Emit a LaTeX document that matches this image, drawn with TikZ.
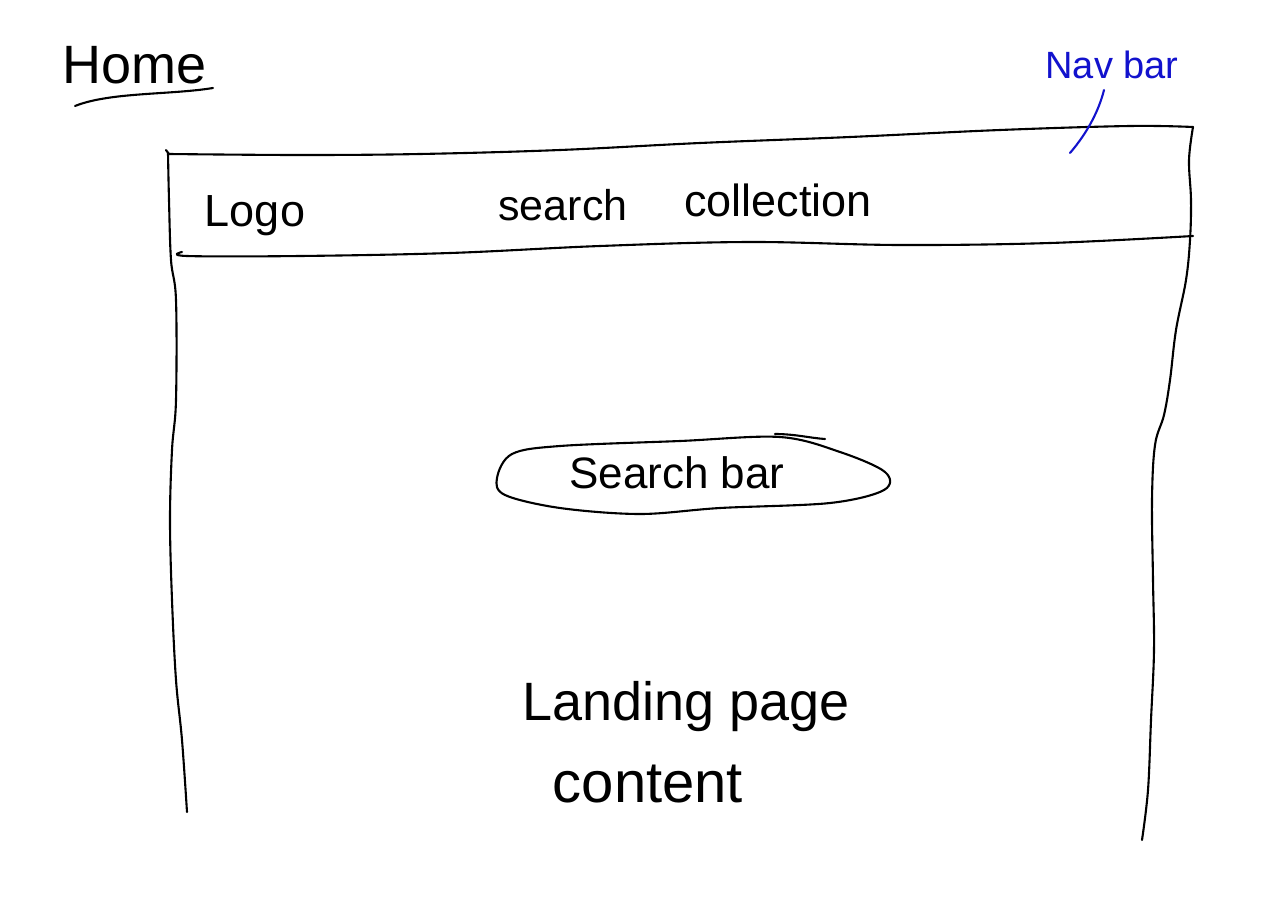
\documentclass[tikz,border=0pt]{standalone}
\usepackage{fontspec}
\setmainfont{Liberation Sans}
\begin{document}
\begin{tikzpicture}[x=1pt,y=-1pt,
  pen/.style={line width=2.1pt,line cap=round,line join=round,black},
  bluepen/.style={line width=2.1pt,line cap=round,color=inkblue},
  label/.style={anchor=base,inner sep=0pt,text=black},
]
\definecolor{inkblue}{RGB}{18,18,205}
\useasboundingbox[fill=white] (0,0) rectangle (1280,905);

% page title
\node[label,font=\fontsize{54}{62}\selectfont] (title) at (135,83) {Home};
\draw[pen] (75,106) .. controls (110,92) and (170,95) .. (213,88);

% outer page frame
\draw[pen] plot[smooth,tension=0.6] coordinates {(168,153) (169,200) (171,260) (176,300) (176,400) (172,450) (170,520) (172,600) (176,680) (182,740) (187,812)};
\draw[pen] plot[smooth,tension=0.6] coordinates {(1193,127) (1189,160) (1191,200) (1190,240) (1186,280) (1176,330) (1170,380) (1164,415) (1155,445) (1152,500) (1153,580) (1154,650) (1151,720) (1148,790) (1142,840)};

% navigation bar
\draw[pen] (166,150) -- (169,154);
\draw[pen] plot[smooth,tension=0.6] coordinates {(169,154) (300,155) (420,154) (560,150) (700,143) (850,137) (1000,130) (1130,126) (1193,127)};
\draw[pen] plot[smooth,tension=0.6] coordinates {(182,252) (187,256) (300,256) (450,253) (600,246) (750,242) (900,245) (1050,243) (1193,236)};

\node[label,font=\fontsize{45}{54}\selectfont] (logo) at (255,226) {Logo};
\node[label,font=\fontsize{43}{52}\selectfont] (search) at (563,220) {search};
\node[label,font=\fontsize{45}{54}\selectfont] (collection) at (778,216) {collection};

% navbar annotation
\node[label,text=inkblue,font=\fontsize{38}{46}\selectfont] (navlabel) at (1112,78) {Nav bar};
\coordinate (navstart) at (1104,90);
\coordinate (navtip) at (1070,153);
\draw[bluepen] (navstart) .. controls (1099,110) and (1088,132) .. (navtip);

% search field
\draw[pen] plot[smooth cycle,tension=0.55] coordinates {(497,478) (512,454) (560,446) (680,441) (780,437) (840,452) (885,472) (884,490) (830,503) (720,508) (640,514) (560,508) (505,495)};
\draw[pen] (775,434) .. controls (795,434) and (810,438) .. (825,439);
\node[label,font=\fontsize{44}{52}\selectfont] (searchbar) at (677,488) {Search bar};

% page body
\node[label,font=\fontsize{54}{62}\selectfont] (landing) at (686,720) {Landing page};
\node[label,font=\fontsize{58}{66}\selectfont] (content) at (648,802) {content};
\end{tikzpicture}
\end{document}
